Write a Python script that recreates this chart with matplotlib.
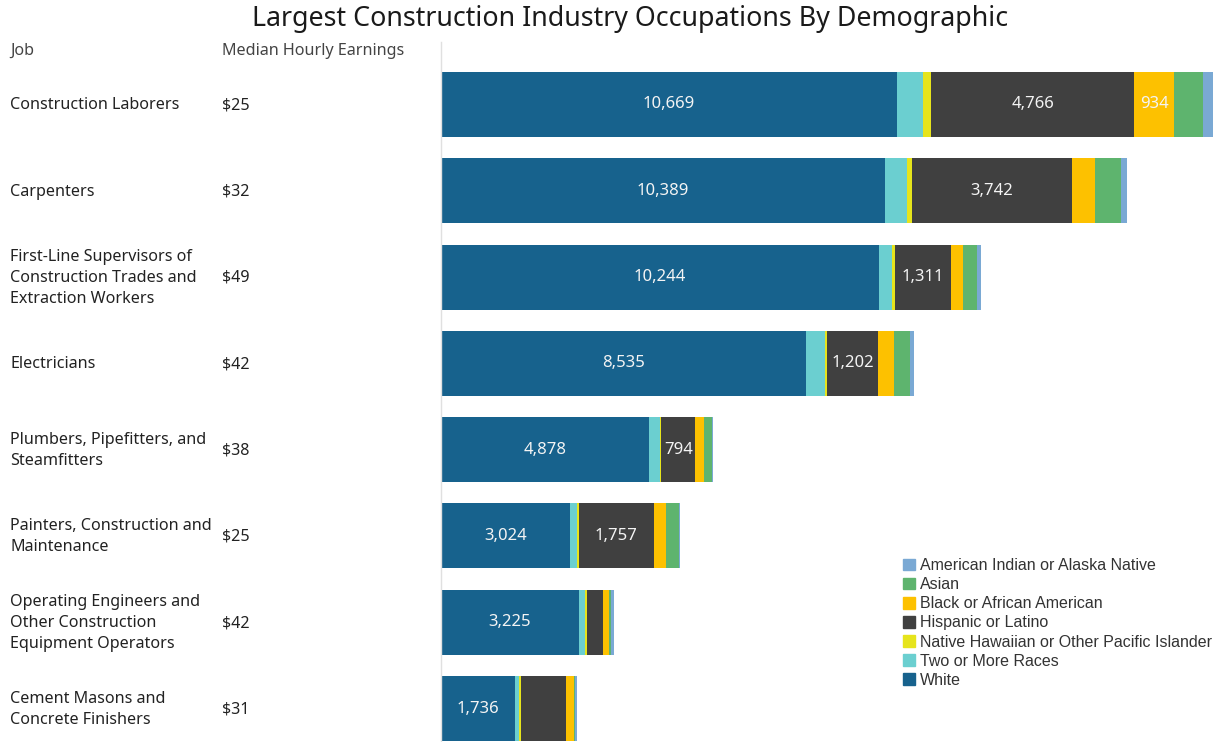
"""
Largest construction industry occupations by demographic - stacked bars
"""

import numpy as np
import matplotlib
matplotlib.use('Agg')
import matplotlib.pyplot as plt
from matplotlib.patches import Patch
from matplotlib.lines import Line2D
import matplotlib.transforms as mtransforms

# data
jobs = [
    "Construction Laborers",
    "Carpenters",
    "First-Line Supervisors of\nConstruction Trades and\nExtraction Workers",
    "Electricians",
    "Plumbers, Pipefitters, and\nSteamfitters",
    "Painters, Construction and\nMaintenance",
    "Operating Engineers and\nOther Construction\nEquipment Operators",
    "Cement Masons and\nConcrete Finishers",
]
earnings = ["$25", "$32", "$49", "$42", "$38", "$25", "$42", "$31"]

groups = [
    "White",
    "Two or More Races",
    "Native Hawaiian or Other Pacific Islander",
    "Hispanic or Latino",
    "Black or African American",
    "Asian",
    "American Indian or Alaska Native",
]
white = [10669, 10389, 10244, 8535, 4878, 3024, 3225, 1736]
two_more = [600, 510, 310, 440, 235, 150, 140, 90]
hawaiian = [190, 120, 70, 55, 45, 45, 55, 40]
hispanic = [4766, 3742, 1311, 1202, 794, 1757, 370, 1050]
black = [934, 540, 290, 370, 195, 290, 140, 195]
asian = [680, 600, 310, 370, 185, 295, 40, 30]
am_indian = [230, 160, 90, 95, 35, 25, 75, 35]

# which segments carry a number label
show_white = [True] * 8
show_hispanic = [True, True, True, True, True, True, False, False]
show_black = [True, False, False, False, False, False, False, False]

colors = ["#17628d", "#6bcfd0", "#e6e41c", "#404040", "#fdc100", "#5eb46e", "#7aa9d4"]


def main():
    series = [white, two_more, hawaiian, hispanic, black, asian, am_indian]
    labels_on = [show_white, None, None, show_hispanic, show_black, None, None]

    W, H = 1221, 742
    fig = plt.figure(figsize=(W / 100, H / 100), dpi=100)
    ax = fig.add_axes([441 / W, 0, 1 - 441 / W, 1 - 61.3 / H])

    y = np.arange(len(jobs))
    left = np.zeros(len(jobs))
    for vals, col, name, lab in zip(series, colors, groups, labels_on):
        vals = np.array(vals, dtype=float)
        ax.barh(y, vals, left=left, height=0.753, color=col, label=name, linewidth=0)
        if lab is not None:
            for i, v in enumerate(vals):
                if lab[i]:
                    ax.text(left[i] + v / 2, y[i], f"{int(v):,}", ha="center", va="center",
                            color="#f4f4f4", fontsize=12, family="Noto Sans")
        left += vals

    ax.set_xlim(0, 780 * 23.4)
    ax.set_ylim(7 + (742 - 708.5) / 86.3, -0.5)
    ax.axis("off")

    # left table columns
    trans = mtransforms.blended_transform_factory(fig.transFigure, ax.transData)
    for i, (job, earn) in enumerate(zip(jobs, earnings)):
        ax.text(10 / W, i + 0.01, job, transform=trans, ha="left", va="center",
                fontsize=11.6, family="Noto Sans", color="#222222", linespacing=1.4)
        ax.text(222 / W, i + 0.01, earn, transform=trans, ha="left", va="center",
                fontsize=11.6, family="Noto Sans", color="#222222")

    fig.text(10 / W, 1 - 51 / H, "Job", ha="left", va="center",
             fontsize=11.6, family="Noto Sans", color="#444444")
    fig.text(222 / W, 1 - 51 / H, "Median Hourly Earnings", ha="left", va="center",
             fontsize=11.6, family="Noto Sans", color="#444444")

    fig.text(630 / W, 1 - 19 / H, "Largest Construction Industry Occupations By Demographic",
             ha="center", va="center", fontsize=19.3, family="Noto Sans", color="#1a1a1a")

    # divider line
    fig.add_artist(Line2D([441 / W, 441 / W], [0, 1 - 42 / H], transform=fig.transFigure,
                          color="#e0e0e0", linewidth=1))

    handles = [Patch(color=c, label=g) for c, g in zip(colors, groups)][::-1]
    fig.legend(handles=handles, loc="upper left", bbox_to_anchor=(903 / W, 1 - 558 / H),
               frameon=False, prop={"family": "Liberation Sans", "size": 11.5},
               handlelength=0.75, handleheight=0.75, handletextpad=0.3, labelspacing=0.26,
               borderaxespad=0, borderpad=0, labelcolor="#333333")

    fig.savefig("out.png", dpi=100)


if __name__ == "__main__":
    main()
